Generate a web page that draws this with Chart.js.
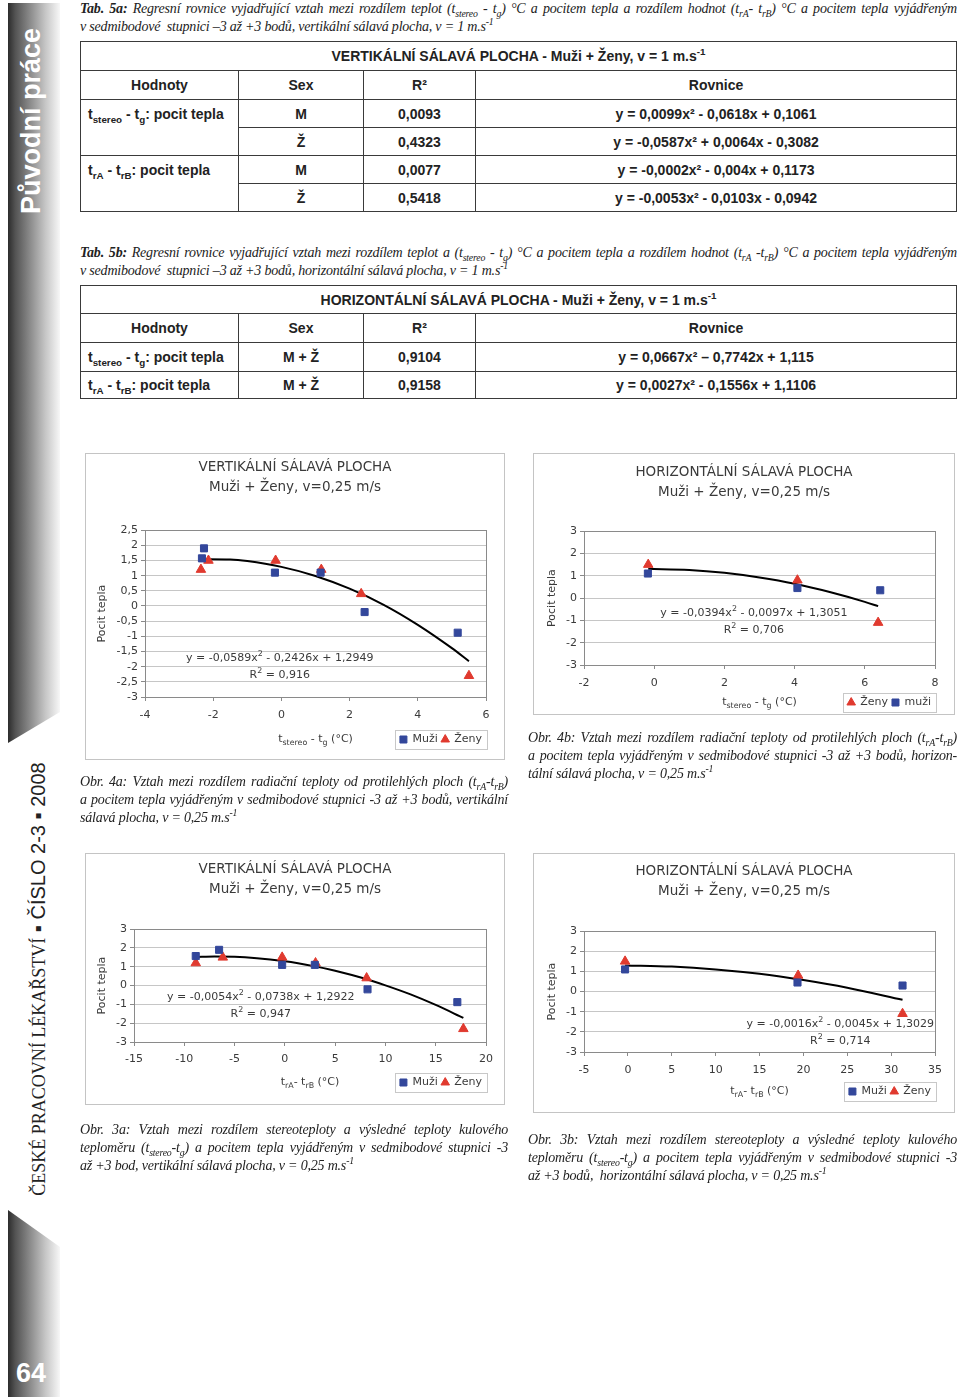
<!DOCTYPE html>
<html lang="cs">
<head>
<meta charset="utf-8">
<title>Pocit tepla – sálavá plocha</title>
<script src="https://cdn.jsdelivr.net/npm/chart.js@4.4.1/dist/chart.umd.min.js"></script>
<style>
html, body { margin: 0; padding: 0; background: #fff; }
body { width: 960px; height: 1400px; position: relative; overflow: hidden; font-family: "Liberation Serif", serif; color: #222; }
.band { position: absolute; left: 8px; width: 52px; background: linear-gradient(to right, #2c2c2c 0%, #535353 14%, #8a8a8a 42%, #c6c6c6 72%, #f7f7f7 100%); }
#band1 { top: 3px; height: 740px; clip-path: polygon(0 0, 100% 0, 100% 709px, 0 100%); }
#band2 { top: 1210px; height: 187px; clip-path: polygon(0 0, 100% 37px, 100% 100%, 0 100%); }
.rot { position: absolute; transform: rotate(-90deg); white-space: nowrap; text-align: center; }
#secname { left: -77px; top: 104px; width: 220px; height: 34px; line-height: 34px; font: bold 27px "Liberation Sans", Arial, sans-serif; color: #fff; }
#journal { left: -200px; top: 964px; width: 480px; height: 30px; line-height: 30px; color: #222; }
#journal .serif { font: 18px "Liberation Serif", serif; }
#journal .sans { font: 20px "Liberation Sans", "DejaVu Sans", sans-serif; }
#pageno { position: absolute; left: 16px; top: 1358px; font: bold 27px "Liberation Sans", sans-serif; color: #fff; }
.cap { position: absolute; font-style: italic; font-size: 14px; line-height: 18px; letter-spacing: -0.2px; }
.cap .j { text-align: justify; text-align-last: justify; }
.cap .n { white-space: nowrap; }
sub, sup { font-size: 70%; line-height: 0; }
table { position: absolute; left: 80px; width: 877px; border-collapse: collapse; font: bold 14px "Liberation Sans Narrow", "Liberation Sans", sans-serif; color: #222; }
td { border: 1px solid #3a3a3a; text-align: center; padding: 0; white-space: nowrap; }
td.lab { text-align: left; vertical-align: top; padding: 6px 0 0 7px; }
td.lab2 { text-align: left; padding-left: 7px; }
canvas { position: absolute; }
.box { position: absolute; border: 1px solid #c4c4c4; box-sizing: border-box; pointer-events: none; }
</style>
</head>
<body>

<div class="band" id="band1"></div>
<div class="band" id="band2"></div>
<div class="rot" id="secname">Původní práce</div>
<div class="rot" id="journal"><span class="serif">ČESKÉ PRACOVNÍ LÉKAŘSTVÍ</span><span class="sans"> ▪ ČÍSLO 2-3 ▪ 2008</span></div>
<div id="pageno">64</div>

<div class="cap" style="left:80px;top:0px;width:877px">
  <div class="j"><b>Tab. 5a:</b> Regresní rovnice vyjadřující vztah mezi rozdílem teplot (t<sub>stereo</sub> - t<sub>g</sub>) °C a pocitem tepla a rozdílem hodnot (t<sub>rA</sub>- t<sub>rB</sub>) °C a pocitem tepla vyjádřeným</div>
  <div class="n">v sedmibodové&nbsp; stupnici –3 až +3 bodů, vertikální sálavá plocha, v = 1 m.s<sup>-1</sup></div>
</div>

<table style="top:41px">
  <colgroup><col style="width:158px"><col style="width:125px"><col style="width:112px"><col></colgroup>
  <tr style="height:29px"><td colspan="4">VERTIKÁLNÍ SÁLAVÁ PLOCHA - Muži + Ženy, v = 1 m.s<sup>-1</sup></td></tr>
  <tr style="height:29px"><td>Hodnoty</td><td>Sex</td><td>R²</td><td>Rovnice</td></tr>
  <tr style="height:28px"><td rowspan="2" class="lab">t<sub>stereo</sub> - t<sub>g</sub>: pocit tepla</td><td>M</td><td>0,0093</td><td>y = 0,0099x² - 0,0618x + 0,1061</td></tr>
  <tr style="height:28px"><td>Ž</td><td>0,4323</td><td>y = -0,0587x² + 0,0064x - 0,3082</td></tr>
  <tr style="height:28px"><td rowspan="2" class="lab">t<sub>rA</sub> - t<sub>rB</sub>: pocit tepla</td><td>M</td><td>0,0077</td><td>y = -0,0002x² - 0,004x + 0,1173</td></tr>
  <tr style="height:28px"><td>Ž</td><td>0,5418</td><td>y = -0,0053x² - 0,0103x - 0,0942</td></tr>
</table>

<div class="cap" style="left:80px;top:244px;width:877px">
  <div class="j"><b>Tab. 5b:</b> Regresní rovnice vyjadřující vztah mezi rozdílem teplot a (t<sub>stereo</sub> - t<sub>g</sub>) °C a pocitem tepla a rozdílem hodnot (t<sub>rA</sub> -t<sub>rB</sub>) °C a pocitem tepla vyjádřeným</div>
  <div class="n">v sedmibodové&nbsp; stupnici –3 až +3 bodů, horizontální sálavá plocha, v = 1 m.s<sup>-1</sup></div>
</div>

<table style="top:285px">
  <colgroup><col style="width:158px"><col style="width:125px"><col style="width:112px"><col></colgroup>
  <tr style="height:28px"><td colspan="4">HORIZONTÁLNÍ SÁLAVÁ PLOCHA - Muži + Ženy, v = 1 m.s<sup>-1</sup></td></tr>
  <tr style="height:29px"><td>Hodnoty</td><td>Sex</td><td>R²</td><td>Rovnice</td></tr>
  <tr style="height:29px"><td class="lab2">t<sub>stereo</sub> - t<sub>g</sub>: pocit tepla</td><td>M + Ž</td><td>0,9104</td><td>y = 0,0667x² – 0,7742x + 1,115</td></tr>
  <tr style="height:27px"><td class="lab2">t<sub>rA</sub> - t<sub>rB</sub>: pocit tepla</td><td>M + Ž</td><td>0,9158</td><td>y = 0,0027x² - 0,1556x + 1,1106</td></tr>
</table>

<canvas id="c4a" width="418" height="315" style="left:86px;top:454px"></canvas>
<div class="box" style="left:85px;top:453px;width:420px;height:307px"></div>
<canvas id="c4b" width="420" height="270" style="left:534px;top:454px"></canvas>
<div class="box" style="left:533px;top:453px;width:422px;height:262px"></div>
<canvas id="c3a" width="418" height="260" style="left:86px;top:854px"></canvas>
<div class="box" style="left:85px;top:853px;width:420px;height:252px"></div>
<canvas id="c3b" width="420" height="268" style="left:534px;top:854px"></canvas>
<div class="box" style="left:533px;top:853px;width:422px;height:260px"></div>

<div class="cap" style="left:528px;top:729px;width:429px">
  <div class="j">Obr. 4b: Vztah mezi rozdílem radiační teploty od protilehlých ploch (t<sub>rA</sub>-t<sub>rB</sub>)</div>
  <div class="j">a pocitem tepla vyjádřeným v sedmibodové stupnici -3 až +3 bodů, horizon-</div>
  <div class="n">tální sálavá plocha, v = 0,25 m.s<sup>-1</sup></div>
</div>
<div class="cap" style="left:80px;top:773px;width:428px">
  <div class="j">Obr. 4a: Vztah mezi rozdílem radiační teploty od protilehlých ploch (t<sub>rA</sub>-t<sub>rB</sub>)</div>
  <div class="j">a pocitem tepla vyjádřeným v sedmibodové stupnici -3 až +3 bodů, vertikální</div>
  <div class="n">sálavá plocha, v = 0,25 m.s<sup>-1</sup></div>
</div>
<div class="cap" style="left:80px;top:1121px;width:428px">
  <div class="j">Obr. 3a: Vztah mezi rozdílem stereoteploty a výsledné teploty kulového</div>
  <div class="j">teploměru (t<sub>stereo</sub>-t<sub>g</sub>) a pocitem tepla vyjádřeným v sedmibodové stupnici -3</div>
  <div class="n">až +3 bod, vertikální sálavá plocha, v = 0,25 m.s<sup>-1</sup></div>
</div>
<div class="cap" style="left:528px;top:1131px;width:429px">
  <div class="j">Obr. 3b: Vztah mezi rozdílem stereoteploty a výsledné teploty kulového</div>
  <div class="j">teploměru (t<sub>stereo</sub>-t<sub>g</sub>) a pocitem tepla vyjádřeným v sedmibodové stupnici -3</div>
  <div class="n">až +3 bodů,&nbsp; horizontální sálavá plocha, v = 0,25 m.s<sup>-1</sup></div>
</div>

<script>
// Obr. 4a – vertikální sálavá plocha, t_stereo - t_g
const o4aMuziX = [-2.33, -2.27, -0.19, 1.15, 2.44, 5.17];
const o4aMuziY = [1.57, 1.9, 1.1, 1.1, -0.2, -0.88];
const o4aZenyX = [-2.36, -2.14, -0.17, 1.17, 2.34, 5.5];
const o4aZenyY = [1.2, 1.5, 1.5, 1.2, 0.4, -2.3];
const o4aTrendX = [-2.36, -1.5, -1, 0, 1, 2, 3, 4, 5, 5.5];
const o4aTrendY = [1.54, 1.53, 1.48, 1.29, 0.99, 0.57, 0.04, -0.62, -1.39, -1.82];
const o4aXTicks = [-4, -2, 0, 2, 4, 6];
const o4aYTicks = [-3, -2.5, -2, -1.5, -1, -0.5, 0, 0.5, 1, 1.5, 2, 2.5];

// Obr. 4b – horizontální sálavá plocha, t_stereo - t_g
const o4bZenyX = [-0.17, 4.08, 6.38];
const o4bZenyY = [1.5, 0.8, -1.1];
const o4bMuziX = [-0.18, 4.08, 6.44];
const o4bMuziY = [1.1, 0.45, 0.35];
const o4bTrendX = [-0.17, 1, 2, 3, 4, 5, 6, 6.38];
const o4bTrendY = [1.31, 1.26, 1.13, 0.92, 0.64, 0.27, -0.17, -0.36];
const o4bXTicks = [-2, 0, 2, 4, 6, 8];
const o4bYTicks = [-3, -2, -1, 0, 1, 2, 3];

// Obr. 3a – vertikální sálavá plocha, t_rA - t_rB
const o3aMuziX = [-8.86, -6.54, -0.27, 2.98, 8.22, 17.15];
const o3aMuziY = [1.57, 1.9, 1.1, 1.1, -0.2, -0.88];
const o3aZenyX = [-8.86, -6.17, -0.27, 3.05, 8.13, 17.75];
const o3aZenyY = [1.2, 1.5, 1.5, 1.2, 0.4, -2.3];
const o3aTrendX = [-8.86, -7, -5, 0, 3, 5, 8, 10, 12.5, 15, 17.75];
const o3aTrendY = [1.52, 1.54, 1.53, 1.29, 1.02, 0.79, 0.36, 0.01, -0.47, -1.03, -1.72];
const o3aXTicks = [-15, -10, -5, 0, 5, 10, 15, 20];
const o3aYTicks = [-3, -2, -1, 0, 1, 2, 3];

// Obr. 3b – horizontální sálavá plocha, t_rA - t_rB
const o3bMuziX = [-0.32, 19.33, 31.3];
const o3bMuziY = [1.1, 0.45, 0.3];
const o3bZenyX = [-0.32, 19.4, 31.3];
const o3bZenyY = [1.5, 0.8, -1.1];
const o3bTrendX = [-0.32, 5, 10, 15, 20, 25, 31.3];
const o3bTrendY = [1.3, 1.24, 1.1, 0.88, 0.57, 0.19, -0.41];
const o3bXTicks = [-5, 0, 5, 10, 15, 20, 25, 30, 35];
const o3bYTicks = [-3, -2, -1, 0, 1, 2, 3];

const blue = "#33479b";
const red = "#e03a2f";
const ink = "#3a3a3a";
const face = "DejaVu Sans";

function fmt(v) {
  return String(Math.round(v * 10) / 10).replace(".", ",");
}

function pts(xs, ys) {
  return xs.map((x, i) => ({ x: x, y: ys[i] }));
}

function muzi(label, xs, ys) {
  return { label: label, data: pts(xs, ys), pointStyle: "rect", pointRadius: 5, backgroundColor: blue, borderColor: blue, borderWidth: 1 };
}

function zeny(xs, ys) {
  return { label: "Ženy", data: pts(xs, ys), pointStyle: "triangle", pointRadius: 5.5, backgroundColor: red, borderColor: red, borderWidth: 1 };
}

function trend(xs, ys) {
  return { label: "trend", data: pts(xs, ys), showLine: true, pointRadius: 0, borderColor: "#000", borderWidth: 2, cubicInterpolationMode: "monotone" };
}

// text with sub/superscripts, parts are strings or [text, "sub"|"sup"]
function drawRich(ctx, parts, cx, cy, size) {
  const items = parts.map(p => (typeof p === "string" ? [p, ""] : p));
  let w = 0;
  items.forEach(([t, k]) => {
    ctx.font = (k ? size * 0.72 : size) + "px " + face;
    w += ctx.measureText(t).width;
  });
  let x = cx - w / 2;
  ctx.textAlign = "left";
  ctx.textBaseline = "middle";
  ctx.fillStyle = ink;
  items.forEach(([t, k]) => {
    ctx.font = (k ? size * 0.72 : size) + "px " + face;
    const dy = k === "sub" ? size * 0.32 : k === "sup" ? -size * 0.38 : 0;
    ctx.fillText(t, x, cy + dy);
    x += ctx.measureText(t).width;
  });
}

const extras = {
  id: "extras",
  beforeDatasetsDraw(chart) {
    const a = chart.chartArea;
    const ctx = chart.ctx;
    ctx.save();
    ctx.strokeStyle = "#8a8a8a";
    ctx.lineWidth = 1;
    ctx.strokeRect(Math.round(a.left) + 0.5, Math.round(a.top) + 0.5, Math.round(a.right - a.left), Math.round(a.bottom - a.top));
    ctx.restore();
  },
  afterDraw(chart, args, opts) {
    const ctx = chart.ctx;
    const a = chart.chartArea;
    const boxes = chart.legend.legendHitBoxes;
    ctx.save();
    const l = Math.min(...boxes.map(b => b.left)) - 5;
    const r = Math.max(...boxes.map(b => b.left + b.width)) + 5;
    const t = boxes[0].top - 4;
    const h = boxes[0].height + 8;
    ctx.strokeStyle = "#c8c8c8";
    ctx.strokeRect(Math.round(l) + 0.5, Math.round(t) + 0.5, Math.round(r - l), h);
    drawRich(ctx, opts.xTitle, (a.left + a.right) / 2, boxes[0].top + boxes[0].height / 2, 11);
    const ex = chart.scales.x.getPixelForValue(opts.eqAt[0]);
    const ey = chart.scales.y.getPixelForValue(opts.eqAt[1]);
    opts.eq.forEach((line, i) => drawRich(ctx, line, ex, ey + i * 17, 11));
    ctx.restore();
  }
};

function makeChart(id, o) {
  const tickFont = { family: face, size: 11 };
  return new Chart(document.getElementById(id), {
    type: "scatter",
    data: { datasets: o.datasets },
    options: {
      responsive: false,
      animation: false,
      events: [],
      layout: { padding: { left: o.pad, right: o.pad, top: 0, bottom: o.padBottom } },
      plugins: {
        title: {
          display: true,
          text: o.title,
          color: ink,
          font: { family: face, size: 13.5, weight: "normal", lineHeight: 1.45 },
          padding: { top: o.titleTop, bottom: o.titleBottom }
        },
        legend: {
          position: "bottom",
          align: "end",
          labels: {
            usePointStyle: true,
            boxWidth: 7,
            boxHeight: 7,
            padding: 4,
            color: ink,
            font: tickFont,
            filter: item => item.text !== "trend"
          }
        },
        tooltip: { enabled: false },
        extras: { xTitle: o.xTitle, eq: o.eq, eqAt: o.eqAt }
      },
      scales: {
        x: {
          type: "linear",
          min: o.xTicks[0],
          max: o.xTicks[o.xTicks.length - 1],
          afterFit: s => { s.height = o.xHeight; },
          ticks: { stepSize: o.xTicks[1] - o.xTicks[0], callback: fmt, color: ink, font: tickFont, padding: o.xPad, maxRotation: 0, autoSkip: false },
          grid: { drawOnChartArea: false, tickLength: 4, color: "#8a8a8a" },
          border: { color: "#8a8a8a" }
        },
        y: {
          min: o.yTicks[0],
          max: o.yTicks[o.yTicks.length - 1],
          afterFit: s => { s.width = o.yWidth; },
          ticks: { stepSize: o.yTicks[1] - o.yTicks[0], callback: fmt, color: ink, font: tickFont, padding: 3, autoSkip: false },
          grid: { color: "#c6c6c6", tickLength: 4, tickColor: "#8a8a8a" },
          border: { color: "#8a8a8a" },
          title: { display: true, text: "Pocit tepla", color: ink, font: tickFont, padding: { top: o.yTitlePad, bottom: 0 } }
        }
      }
    },
    plugins: [extras]
  });
}

const stereoTitle = ["t", ["stereo", "sub"], " - t", ["g", "sub"], " (°C)"];
const radTitle = ["t", ["rA", "sub"], "- t", ["rB", "sub"], " (°C)"];

makeChart("c4a", {
  title: ["VERTIKÁLNÍ SÁLAVÁ PLOCHA", "Muži + Ženy, v=0,25 m/s"],
  datasets: [muzi("Muži", o4aMuziX, o4aMuziY), zeny(o4aZenyX, o4aZenyY), trend(o4aTrendX, o4aTrendY)],
  xTicks: o4aXTicks, yTicks: o4aYTicks,
  pad: 18, padBottom: 14, titleTop: 4, titleBottom: 33, xHeight: 33, yWidth: 41, yTitlePad: -8, xPad: 8,
  xTitle: stereoTitle,
  eq: [["y = -0,0589x", ["2", "sup"], " - 0,2426x + 1,2949"], ["R", ["2", "sup"], " = 0,916"]],
  eqAt: [-0.05, -1.72]
});

makeChart("c4b", {
  title: ["HORIZONTÁLNÍ SÁLAVÁ PLOCHA", "Muži + Ženy, v=0,25 m/s"],
  datasets: [zeny(o4bZenyX, o4bZenyY), muzi("muži", o4bMuziX, o4bMuziY), trend(o4bTrendX, o4bTrendY)],
  xTicks: o4bXTicks, yTicks: o4bYTicks,
  pad: 19, padBottom: 6, titleTop: 9, titleBottom: 29, xHeight: 28, yWidth: 31, yTitlePad: -7, xPad: 8,
  xTitle: stereoTitle,
  eq: [["y = -0,0394x", ["2", "sup"], " - 0,0097x + 1,3051"], ["R", ["2", "sup"], " = 0,706"]],
  eqAt: [2.84, -0.67]
});

makeChart("c3a", {
  title: ["VERTIKÁLNÍ SÁLAVÁ PLOCHA", "Muži + Ženy, v=0,25 m/s"],
  datasets: [muzi("Muži", o3aMuziX, o3aMuziY), zeny(o3aZenyX, o3aZenyY), trend(o3aTrendX, o3aTrendY)],
  xTicks: o3aXTicks, yTicks: o3aYTicks,
  pad: 18, padBottom: 16, titleTop: 6, titleBottom: 30, xHeight: 31, yWidth: 30, yTitlePad: -8, xPad: 7,
  xTitle: radTitle,
  eq: [["y = -0,0054x", ["2", "sup"], " - 0,0738x + 1,2922"], ["R", ["2", "sup"], " = 0,947"]],
  eqAt: [-2.4, -0.61]
});

makeChart("c3b", {
  title: ["HORIZONTÁLNÍ SÁLAVÁ PLOCHA", "Muži + Ženy, v=0,25 m/s"],
  datasets: [muzi("Muži", o3bMuziX, o3bMuziY), zeny(o3bZenyX, o3bZenyY), trend(o3bTrendX, o3bTrendY)],
  xTicks: o3bXTicks, yTicks: o3bYTicks,
  pad: 19, padBottom: 15, titleTop: 8, titleBottom: 30, xHeight: 30, yWidth: 31, yTitlePad: -7, xPad: 8,
  xTitle: radTitle,
  eq: [["y = -0,0016x", ["2", "sup"], " - 0,0045x + 1,3029"], ["R", ["2", "sup"], " = 0,714"]],
  eqAt: [24.2, -1.61]
});
</script>
</body>
</html>
